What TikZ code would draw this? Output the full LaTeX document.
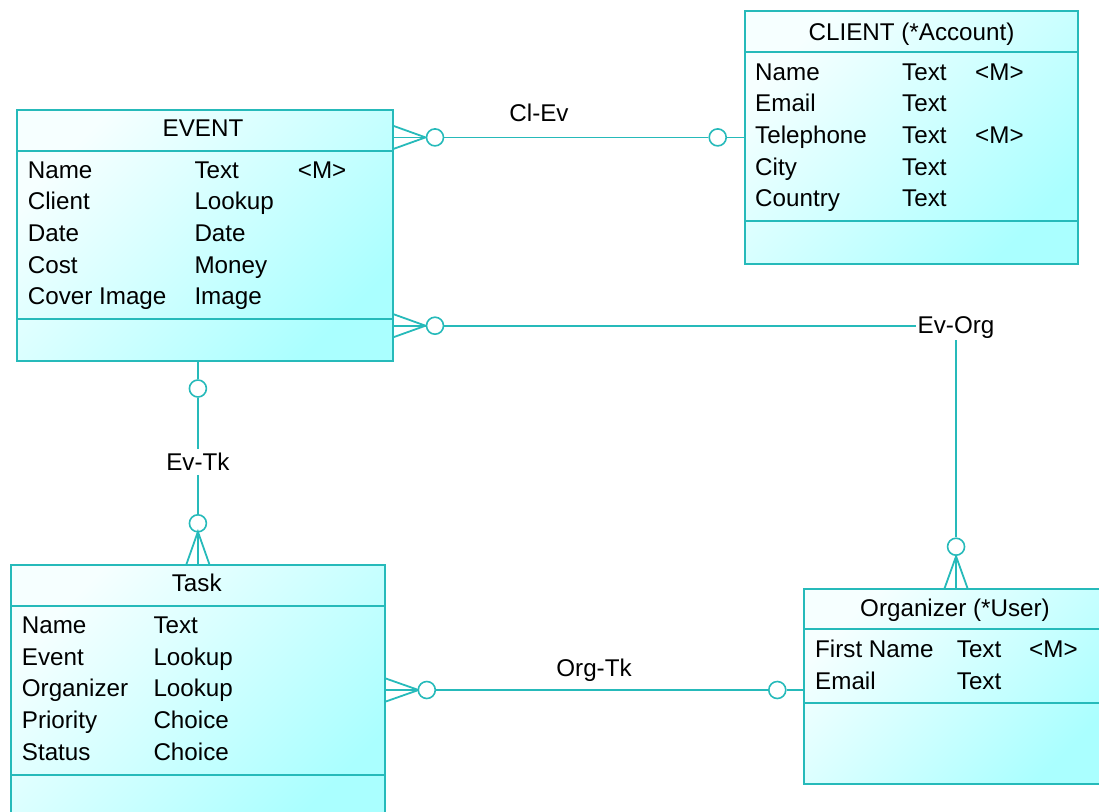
\documentclass[tikz,border=0pt]{standalone}
\usepackage{fontspec}
\setmainfont{Liberation Sans}
\usetikzlibrary{calc}

\definecolor{erline}{RGB}{38,186,186}
\definecolor{erlight}{RGB}{246,255,255}
\definecolor{erdeep}{RGB}{170,255,255}

% one attribute cell: name, x, baseline y (down from top), text
\newcommand\erattr[4]{\node[attrtext] (#1) at (#2,-#3) {#4};}

\begin{document}
\begin{tikzpicture}[x=1pt,y=1pt,
  ln/.style={draw=erline, line width=1.8pt},
  entity/.style={rectangle, draw=erline, line width=1.8pt,
    top color=erlight, bottom color=erdeep, shading angle=45,
    anchor=north west, inner sep=0pt},
  attrtext/.style={anchor=base west, inner sep=0pt, font=\fontsize{24.2}{28}\selectfont},
  titletext/.style={anchor=base, inner sep=0pt, font=\fontsize{24.2}{28}\selectfont},
  reltext/.style={fill=white, font=\fontsize{24.2}{28}\selectfont},
  optmark/.style={circle, draw=erline, line width=1.6pt, fill=white,
    minimum size=17pt, inner sep=0pt}
]
\useasboundingbox (0,0) rectangle (1099,-811);
\clip (0,0) rectangle (1099,-811);

% ---------- entities ----------
\node[entity, minimum width=375.7pt, minimum height=251pt] (event) at (16,-109) {};
\node[entity, minimum width=333pt, minimum height=253pt] (client) at (744,-10) {};
\node[entity, minimum width=374pt, minimum height=260pt] (task) at (10,-564.3) {};
\node[entity, minimum width=303.7pt, minimum height=194.4pt] (org) at (803.3,-588.3) {};

% compartment separators
\draw[ln] (event.west |- 0,-150.7) -- (event.east |- 0,-150.7);
\draw[ln] (event.west |- 0,-319) -- (event.east |- 0,-319);
\draw[ln] (client.west |- 0,-52.3) -- (client.east |- 0,-52.3);
\draw[ln] (client.west |- 0,-220.7) -- (client.east |- 0,-220.7);
\draw[ln] (task.west |- 0,-605.7) -- (task.east |- 0,-605.7);
\draw[ln] (task.west |- 0,-775) -- (task.east |- 0,-775);
\draw[ln] (org.west |- 0,-629.3) -- (org.east |- 0,-629.3);
\draw[ln] (org.west |- 0,-702.7) -- (org.east |- 0,-702.7);

% ---------- EVENT ----------
\node[titletext] (event-title) at (203,-136.7) {EVENT};
\erattr{ev-n1}{27.7}{178}{Name}
\erattr{ev-t1}{194.3}{178}{Text}
\erattr{ev-m1}{297.7}{178}{<M>}
\erattr{ev-n2}{27.7}{209.7}{Client}
\erattr{ev-t2}{194.3}{209.7}{Lookup}
\erattr{ev-n3}{27.7}{241.3}{Date}
\erattr{ev-t3}{194.3}{241.3}{Date}
\erattr{ev-n4}{27.7}{273}{Cost}
\erattr{ev-t4}{194.3}{273}{Money}
\erattr{ev-n5}{27.7}{304.7}{Cover Image}
\erattr{ev-t5}{194.3}{304.7}{Image}

% ---------- CLIENT ----------
\node[titletext] (client-title) at (911.5,-40) {CLIENT (*Account)};
\erattr{cl-n1}{755}{80}{Name}
\erattr{cl-t1}{902}{80}{Text}
\erattr{cl-m1}{975}{80}{<M>}
\erattr{cl-n2}{755}{111.7}{Email}
\erattr{cl-t2}{902}{111.7}{Text}
\erattr{cl-n3}{755}{143.3}{Telephone}
\erattr{cl-t3}{902}{143.3}{Text}
\erattr{cl-m3}{975}{143.3}{<M>}
\erattr{cl-n4}{755}{175}{City}
\erattr{cl-t4}{902}{175}{Text}
\erattr{cl-n5}{755}{206.7}{Country}
\erattr{cl-t5}{902}{206.7}{Text}

% ---------- Task ----------
\node[titletext] (task-title) at (196.7,-591.7) {Task};
\erattr{tk-n1}{21.7}{633.3}{Name}
\erattr{tk-t1}{153.3}{633.3}{Text}
\erattr{tk-n2}{21.7}{665}{Event}
\erattr{tk-t2}{153.3}{665}{Lookup}
\erattr{tk-n3}{21.7}{696.7}{Organizer}
\erattr{tk-t3}{153.3}{696.7}{Lookup}
\erattr{tk-n4}{21.7}{728.3}{Priority}
\erattr{tk-t4}{153.3}{728.3}{Choice}
\erattr{tk-n5}{21.7}{760}{Status}
\erattr{tk-t5}{153.3}{760}{Choice}

% ---------- Organizer ----------
\node[titletext] (org-title) at (955,-616) {Organizer (*User)};
\erattr{og-n1}{815}{657.3}{First Name}
\erattr{og-t1}{956.7}{657.3}{Text}
\erattr{og-m1}{1029}{657.3}{<M>}
\erattr{og-n2}{815}{689}{Email}
\erattr{og-t2}{956.7}{689}{Text}

% ---------- Cl-Ev ----------
\coordinate (clev-a) at (event.east |- client.west);
\coordinate (clev-b) at (client.west);
\draw[ln] ($(clev-a)+(0,11.5)$) -- ($(clev-a)+(32,0)$) -- ($(clev-a)+(0,-11.5)$);
\draw[ln] (clev-a) -- ($(clev-a)+(32,0)$);
\node[optmark] (clev-o1) at ($(clev-a)+(41.5,0)$) {};
\node[optmark] (clev-o2) at ($(clev-b)+(-26.3,0)$) {};
\draw[ln] (clev-o1) -- (clev-o2);
\draw[ln] (clev-o2) -- (clev-b);
\node[titletext] (clev-label) at (539,-121.7) {Cl-Ev};

% ---------- Ev-Org ----------
\coordinate (evorg-a) at (event.east |- 0,-325.7);
\coordinate (evorg-b) at (org.north);
\draw[ln] ($(evorg-a)+(0,11.5)$) -- ($(evorg-a)+(32,0)$) -- ($(evorg-a)+(0,-11.5)$);
\draw[ln] (evorg-a) -- ($(evorg-a)+(32,0)$);
\node[optmark] (evorg-o1) at ($(evorg-a)+(41.5,0)$) {};
\node[reltext, inner sep=1.5pt, anchor=base] (evorg-label) at ($(org.north |- 0,-333.3)$) {Ev-Org};
\node[optmark] (evorg-o2) at ($(evorg-b)+(0,41.6)$) {};
\draw[ln] (evorg-o1) -- (evorg-o1 -| evorg-label.west);
\draw[ln] (evorg-label.south) -- (evorg-o2);
\draw[ln] ($(evorg-b)+(-11.5,0)$) -- ($(evorg-b)+(0,32)$) -- ($(evorg-b)+(11.5,0)$);
\draw[ln] (evorg-b) -- ($(evorg-b)+(0,32)$);

% ---------- Ev-Tk ----------
\coordinate (evtk-a) at (event.south -| task.north);
\coordinate (evtk-b) at (task.north);
\node[optmark] (evtk-o1) at ($(evtk-a)+(0,-26.7)$) {};
\node[reltext, inner sep=4pt, anchor=base] (evtk-label) at ($(task.north |- 0,-470.7)$) {Ev-Tk};
\node[optmark] (evtk-o2) at ($(evtk-b)+(0,41)$) {};
\draw[ln] (evtk-a) -- (evtk-o1);
\draw[ln] (evtk-o1) -- (evtk-label.north);
\draw[ln] (evtk-label.south) -- (evtk-o2);
\draw[ln] ($(evtk-b)+(-11.5,0)$) -- ($(evtk-b)+(0,32.6)$) -- ($(evtk-b)+(11.5,0)$);
\draw[ln] (evtk-b) -- ($(evtk-b)+(0,32.6)$);

% ---------- Org-Tk ----------
\coordinate (orgtk-a) at (task.east |- 0,-690);
\coordinate (orgtk-b) at (org.west |- orgtk-a);
\draw[ln] ($(orgtk-a)+(0,11.5)$) -- ($(orgtk-a)+(32.7,0)$) -- ($(orgtk-a)+(0,-11.5)$);
\draw[ln] (orgtk-a) -- ($(orgtk-a)+(32.7,0)$);
\node[optmark] (orgtk-o1) at ($(orgtk-a)+(41,0)$) {};
\node[optmark] (orgtk-o2) at ($(orgtk-b)+(-26,0)$) {};
\draw[ln] (orgtk-o1) -- (orgtk-o2);
\draw[ln] (orgtk-o2) -- (orgtk-b);
\node[titletext] (orgtk-label) at (594,-676.7) {Org-Tk};
\end{tikzpicture}
\end{document}
